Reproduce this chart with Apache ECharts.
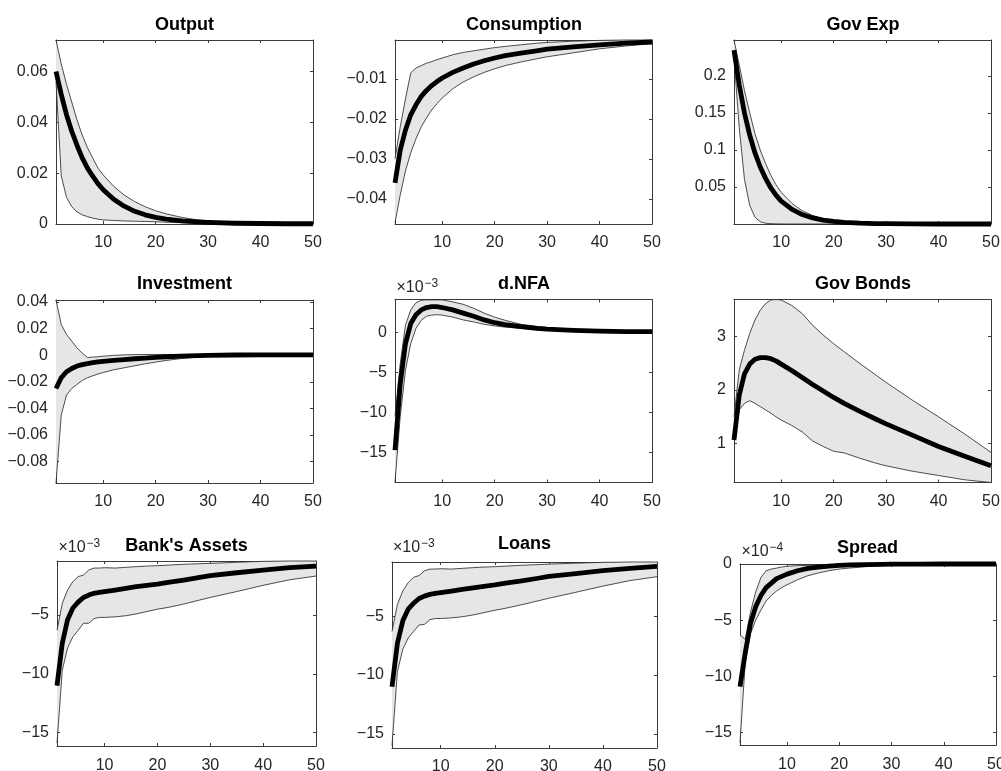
<!DOCTYPE html>
<html><head><meta charset="utf-8">
<script src="https://cdn.jsdelivr.net/npm/echarts@6/dist/echarts.min.js"></script>
<style>html,body{margin:0;padding:0;background:#fff}#c{width:1001px;height:771px}</style>
</head><body><div id="c"></div>
<script>
// ---------- data ----------
const periods = [1,2,3,4,5,6,7,8,9,10,12,14,16,18,20,22,25,28,30,35,40,45,50];
const xTicks = [10,20,30,40,50];

const outputLo  = [0.056,0.019,0.0105,0.0068,0.0048,0.0036,0.0029,0.0023,0.0019,0.0016,0.0014,0.0012,0.0011,0.0010,0.0009,0.0007,0.0005,0.0003,0.0002,0.0001,0,0,0];
const outputMed = [0.060,0.051,0.043,0.0365,0.031,0.026,0.022,0.0188,0.0159,0.0135,0.0097,0.0070,0.0050,0.0036,0.0026,0.0019,0.0012,0.0008,0.0006,0.0003,0.0002,0.0001,0.0001];
const outputHi  = [0.0724,0.063,0.055,0.048,0.041,0.035,0.030,0.026,0.022,0.0193,0.0148,0.0114,0.0088,0.0068,0.0052,0.0040,0.0026,0.0016,0.0012,0.0005,0.0003,0.0002,0.0001];
const outputTicks = [0,0.02,0.04,0.06];

const consLo  = [-0.046,-0.039,-0.033,-0.0285,-0.025,-0.022,-0.0198,-0.0178,-0.0162,-0.0148,-0.0125,-0.0108,-0.0095,-0.0084,-0.0075,-0.0067,-0.0058,-0.0050,-0.0045,-0.0035,-0.0025,-0.0018,-0.0012];
const consMed = [-0.036,-0.0278,-0.0228,-0.019,-0.0165,-0.0144,-0.0129,-0.0117,-0.0107,-0.0098,-0.0084,-0.0073,-0.0063,-0.0055,-0.0048,-0.0042,-0.0036,-0.0030,-0.0026,-0.0020,-0.0015,-0.0011,-0.0008];
const consHi  = [-0.030,-0.022,-0.015,-0.0085,-0.0073,-0.0067,-0.0061,-0.0057,-0.0052,-0.0048,-0.0040,-0.0034,-0.0030,-0.0026,-0.0022,-0.0019,-0.0015,-0.0011,-0.0009,-0.0006,-0.0004,-0.0003,-0.0003];
const consTicks = [-0.04,-0.03,-0.02,-0.01];

const govExpLo  = [0.225,0.13,0.06,0.025,0.009,0.003,0.001,0.0005,0.0002,0.0001,0,0,0,0,0,0,0,0,0,0,0,0,0];
const govExpMed = [0.235,0.188,0.150,0.120,0.096,0.077,0.062,0.049,0.039,0.031,0.020,0.0128,0.0082,0.0052,0.0034,0.0022,0.0011,0.0006,0.0004,0.0001,0,0,0];
const govExpHi  = [0.2486,0.215,0.180,0.150,0.122,0.100,0.082,0.066,0.053,0.043,0.028,0.018,0.0115,0.0072,0.0045,0.0028,0.0014,0.0007,0.0005,0.0002,0.0001,0,0];
const govExpTicks = [0.05,0.1,0.15,0.2];

const invLo  = [-0.096,-0.045,-0.030,-0.025,-0.022,-0.019,-0.017,-0.0155,-0.0142,-0.013,-0.011,-0.0095,-0.008,-0.0065,-0.0052,-0.004,-0.0025,-0.0014,-0.0009,-0.0003,-0.0001,0,0];
const invMed = [-0.025,-0.017,-0.0125,-0.0100,-0.0082,-0.0071,-0.0063,-0.0057,-0.0051,-0.0046,-0.0039,-0.0033,-0.0027,-0.0022,-0.0017,-0.0012,-0.0007,-0.0004,-0.0002,0.0001,0.0002,0.0002,0.0002];
const invHi  = [0.0414,0.023,0.0155,0.0105,0.0055,0.0015,-0.0018,-0.0015,-0.0012,-0.0008,-0.0002,0.0002,0.0004,0.0005,0.0005,0.0005,0.0005,0.0005,0.0005,0.0005,0.0004,0.0004,0.0004];
const invTicks = [-0.08,-0.06,-0.04,-0.02,0,0.02,0.04];

const nfaLo  = [-18.7,-10.5,-4.7,-1.4,0.5,1.5,2.0,2.15,2.2,2.15,1.9,1.55,1.3,1.0,0.8,0.65,0.5,0.35,0.3,0.15,0.1,0.05,0.04];
const nfaMed = [-14.7,-6.4,-1.4,1.1,2.2,2.8,3.1,3.2,3.2,3.1,2.8,2.4,2.0,1.55,1.2,0.95,0.7,0.5,0.4,0.25,0.15,0.1,0.08];
const nfaHi  = [-10.5,-3.9,0.9,2.8,3.7,4.0,4.05,4.05,4.05,4.05,3.8,3.5,3.0,2.4,1.9,1.5,1.0,0.75,0.6,0.35,0.2,0.12,0.1];
const nfaTicks = [-15,-10,-5,0];

const bondsLo  = [1.07,1.63,1.75,1.8,1.75,1.69,1.63,1.57,1.5,1.44,1.34,1.22,1.05,0.95,0.86,0.83,0.73,0.64,0.59,0.49,0.41,0.33,0.28];
const bondsMed = [1.07,1.9,2.3,2.48,2.57,2.6,2.6,2.58,2.54,2.48,2.36,2.23,2.1,1.98,1.86,1.75,1.6,1.46,1.37,1.16,0.95,0.77,0.59];
const bondsHi  = [1.5,2.37,2.74,3.05,3.3,3.48,3.6,3.67,3.68,3.67,3.57,3.42,3.2,3.02,2.86,2.71,2.49,2.28,2.14,1.81,1.5,1.18,0.84];
const bondsTicks = [1,2,3];

const bankLo  = [-15.9,-9.7,-7.8,-6.85,-6.3,-5.7,-5.7,-5.3,-5.2,-5.2,-5.15,-5.06,-4.9,-4.7,-4.5,-4.35,-4.06,-3.72,-3.5,-3.0,-2.47,-2.0,-1.68];
const bankMed = [-11.0,-7.4,-5.4,-4.4,-3.9,-3.5,-3.3,-3.15,-3.07,-3.0,-2.87,-2.73,-2.59,-2.47,-2.36,-2.22,-2.02,-1.8,-1.65,-1.4,-1.17,-0.97,-0.83];
const bankHi  = [-6.3,-4.0,-2.87,-2.16,-1.73,-1.6,-1.17,-1.0,-1.0,-0.97,-1.0,-0.94,-0.88,-0.83,-0.8,-0.75,-0.68,-0.63,-0.6,-0.51,-0.43,-0.4,-0.4];
const bankTicks = [-15,-10,-5];

const loansLo  = [-16.0,-9.7,-7.8,-6.85,-6.3,-5.75,-5.7,-5.3,-5.2,-5.2,-5.15,-5.05,-4.9,-4.7,-4.5,-4.33,-4.03,-3.7,-3.48,-2.97,-2.45,-1.98,-1.65];
const loansMed = [-11.0,-7.3,-5.4,-4.4,-3.9,-3.5,-3.3,-3.15,-3.07,-3.0,-2.87,-2.73,-2.59,-2.47,-2.35,-2.2,-2.0,-1.78,-1.63,-1.38,-1.14,-0.94,-0.78];
const loansHi  = [-6.3,-4.0,-2.85,-2.15,-1.7,-1.55,-1.15,-1.0,-1.0,-0.97,-1.0,-0.94,-0.88,-0.83,-0.8,-0.75,-0.68,-0.62,-0.58,-0.5,-0.43,-0.4,-0.4];
const loansTicks = [-15,-10,-5];

const spreadLo  = [-15.9,-8.8,-6.2,-5.0,-4.1,-3.3,-2.8,-2.4,-2.1,-1.85,-1.4,-1.04,-0.8,-0.6,-0.45,-0.36,-0.24,-0.15,-0.12,-0.06,-0.03,-0.01,-0.01];
const spreadMed = [-10.9,-7.9,-5.3,-3.8,-2.8,-2.1,-1.7,-1.3,-1.1,-0.9,-0.6,-0.39,-0.27,-0.18,-0.12,-0.08,-0.05,-0.03,-0.02,-0.01,0,0,0];
const spreadHi  = [-6.3,-6.7,-4.3,-2.5,-1.2,-0.6,-0.45,-0.36,-0.27,-0.2,-0.15,-0.12,-0.09,-0.07,-0.06,-0.05,-0.04,-0.03,-0.03,-0.02,-0.01,0,0];
const spreadTicks = [-15,-10,-5,0];

const titles = ['Output','Consumption','Gov Exp','Investment','d.NFA','Gov Bonds',"Bank's Assets",'Loans','Spread'];

// ---------- layout / style ----------
const FONT = 'Liberation Sans, Arial, Helvetica, sans-serif';
const TXT = '#262626';
const AX = '#3a3a3a';
const panels = [
  {lo:outputLo, med:outputMed, hi:outputHi, ticks:outputTicks, yMin:0, yMax:0.0724, box:[56,40,257,184], t:[184.5,25.5], xm:11},
  {lo:consLo, med:consMed, hi:consHi, ticks:consTicks, yMin:-0.0463, yMax:-0.0003, box:[395,40,257,184], t:[524,25.5], xm:11},
  {lo:govExpLo, med:govExpMed, hi:govExpHi, ticks:govExpTicks, yMin:0, yMax:0.2486, box:[734,40,257,184], t:[863,25.5], xm:11},
  {lo:invLo, med:invMed, hi:invHi, ticks:invTicks, yMin:-0.096, yMax:0.0414, box:[56,300,257,183], t:[184.5,284], xm:11},
  {lo:nfaLo, med:nfaMed, hi:nfaHi, ticks:nfaTicks, yMin:-18.75, yMax:4.1, box:[395,299.5,257,183], t:[524,284], exp:'\u22123', ex:[396.5,288,284], xm:11},
  {lo:bondsLo, med:bondsMed, hi:bondsHi, ticks:bondsTicks, yMin:0.28, yMax:3.68, box:[734,299.5,257,183], t:[863,284], xm:11},
  {lo:bankLo, med:bankMed, hi:bankHi, ticks:bankTicks, yMin:-16.14, yMax:-0.4, box:[57,561,259,185], t:[186.5,546], exp:'\u22123', ex:[58.5,547.7,543.5], xm:12},
  {lo:loansLo, med:loansMed, hi:loansHi, ticks:loansTicks, yMin:-16.2, yMax:-0.4, box:[392,562,265,186], t:[524.5,544], exp:'\u22123', ex:[393,548,544], xm:11},
  {lo:spreadLo, med:spreadMed, hi:spreadHi, ticks:spreadTicks, yMin:-16.1, yMax:0, box:[740,564,256,181], t:[867.5,548], exp:'\u22124', ex:[741.5,551.4,547.5], xm:12}
];

function fmt(v){
  const s = String(+(+v).toFixed(6));
  return s.replace('-', '\u2212');
}

const option = {animation:false, backgroundColor:'#fff', grid:[], xAxis:[], yAxis:[], series:[], graphic:{elements:[]}};

panels.forEach(function(p, i){
  option.grid.push({left:p.box[0], top:p.box[1], width:p.box[2], height:p.box[3], show:false,
    containLabel:false, outerBoundsMode:'none'});
  const line = {show:true, onZero:false, lineStyle:{color:AX, width:1}};
  const lab = {fontSize:16, color:TXT, fontFamily:FONT};
  ['bottom','top'].forEach(function(pos){
    option.xAxis.push({type:'value', gridIndex:i, position:pos, min:1, max:50,
      splitLine:{show:false}, axisLine:line,
      axisTick:{show:true, inside:true, length:3, customValues:xTicks, lineStyle:{color:AX}},
      axisLabel: pos==='bottom' ? Object.assign({show:true, margin:p.xm, customValues:xTicks}, lab) : {show:false}});
  });
  ['left','right'].forEach(function(pos){
    option.yAxis.push({type:'value', gridIndex:i, position:pos, min:p.yMin, max:p.yMax, scale:true,
      splitLine:{show:false}, axisLine:line,
      axisTick:{show:true, inside:true, length:3, customValues:p.ticks, lineStyle:{color:AX}},
      axisLabel: pos==='left' ? Object.assign({show:true, margin:8, customValues:p.ticks, formatter:fmt}, lab) : {show:false}});
  });
  const xi = 2*i, yi = 2*i;
  const lo = p.lo, hi = p.hi;
  option.series.push({
    type:'custom', xAxisIndex:xi, yAxisIndex:yi, silent:true, clip:false, z:1,
    data: periods.map(function(x,k){return [x, lo[k], hi[k]];}),
    encode:{x:0, y:[1,2]},
    renderItem:function(params, api){
      if (params.dataIndex !== 0) return null;
      const pts = [];
      for (let k=0;k<periods.length;k++) pts.push(api.coord([periods[k], hi[k]]));
      for (let k=periods.length-1;k>=0;k--) pts.push(api.coord([periods[k], lo[k]]));
      return {type:'polygon', shape:{points:pts}, style:{fill:'#e6e6e6', stroke:null}};
    }
  });
  [lo, hi].forEach(function(arr){
    option.series.push({type:'line', xAxisIndex:xi, yAxisIndex:yi, showSymbol:false, symbol:'none', silent:true, clip:false, z:2,
      data: periods.map(function(x,k){return [x, arr[k]];}),
      lineStyle:{color:'#222', width:0.8}});
  });
  option.series.push({type:'line', xAxisIndex:xi, yAxisIndex:yi, showSymbol:false, symbol:'none', silent:true, clip:false, z:3,
    data: periods.map(function(x,k){return [x, p.med[k]];}),
    lineStyle:{color:'#000', width:4.8, join:'round'}});

  option.graphic.elements.push({type:'text', x:p.t[0], y:p.t[1], silent:true,
    style:{text:titles[i], font:'bold 18px '+FONT, fill:'#000', align:'center', verticalAlign:'middle'}});
  if (p.exp) {
    option.graphic.elements.push({type:'text', x:p.ex[0], y:p.ex[1], silent:true,
      style:{text:'\u00d710', font:'16px '+FONT, fill:TXT, align:'left', verticalAlign:'middle'}});
    option.graphic.elements.push({type:'text', x:p.ex[0]+28, y:p.ex[2], silent:true,
      style:{text:p.exp, font:'12px '+FONT, fill:TXT, align:'left', verticalAlign:'middle'}});
  }
});

const chart = echarts.init(document.getElementById('c'), null, {renderer:'canvas'});
chart.setOption(option);
</script>
</body></html>
